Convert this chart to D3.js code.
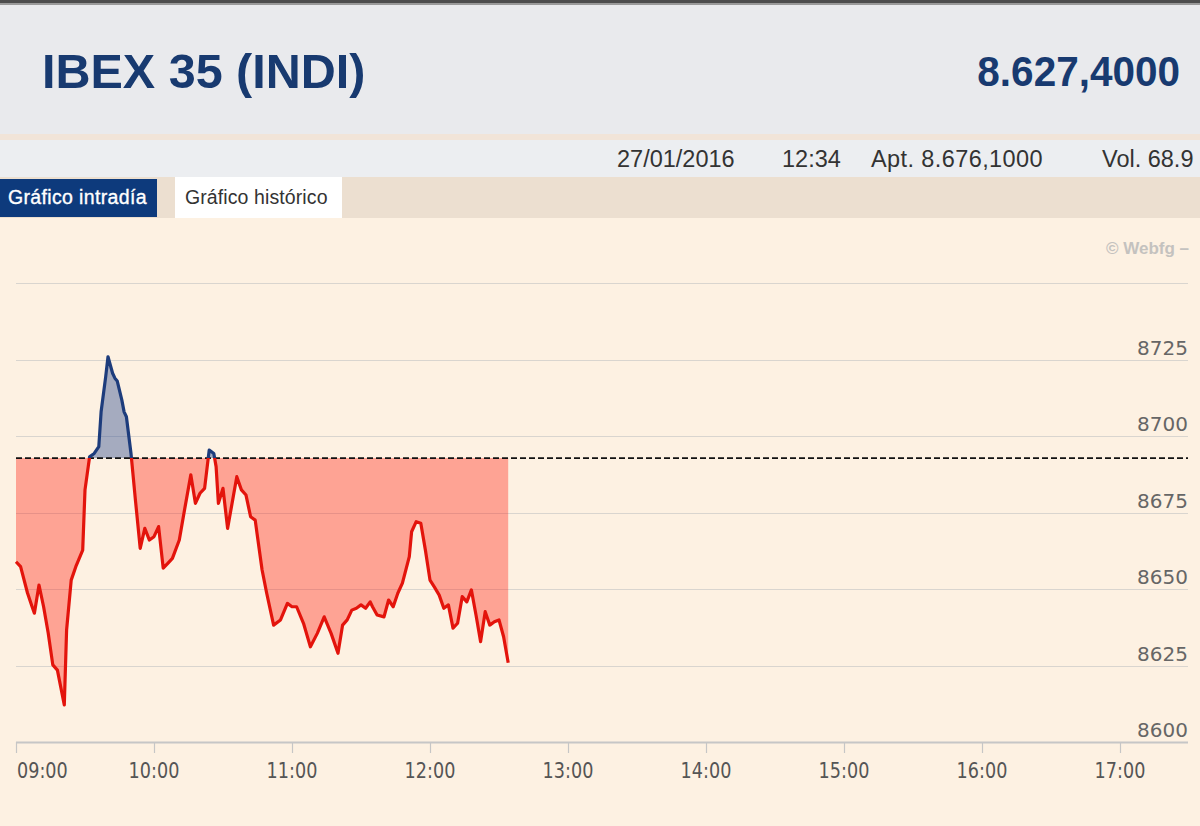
<!DOCTYPE html>
<html>
<head>
<meta charset="utf-8">
<script src="https://cdnjs.cloudflare.com/ajax/libs/d3/7.8.5/d3.min.js"></script>
<style>
  html, body { margin: 0; padding: 0; background: #fdf1e2; overflow: hidden; }
  svg { display: block; }
</style>
</head>
<body>
<svg id="chart" width="1200" height="826"></svg>
<script>
// ---------- data ----------
const title = "IBEX 35 (INDI)";
const lastValue = "8.627,4000";
const infoItems = ["27/01/2016", "12:34", "Apt. 8.676,1000", "Vol. 68.9"];
const tabLabels = ["Gráfico intradía", "Gráfico histórico"];
const credit = "\u00A9 Webfg \u2013";

const times = [
  "09:00","09:02","09:05","09:07","09:08","09:10","09:12","09:14","09:16","09:18",
  "09:21","09:22","09:24","09:26","09:29","09:30","09:32","09:34","09:36","09:37",
  "09:39","09:40","09:42","09:43","09:44","09:46","09:47","09:48","09:50","09:52",
  "09:54","09:56","09:58","10:00","10:02","10:04","10:06","10:08","10:11","10:13",
  "10:16","10:18","10:20","10:22","10:24","10:26","10:27","10:28","10:30","10:32",
  "10:36","10:38","10:40","10:42","10:44","10:47","10:49","10:52","10:55","10:58",
  "11:00","11:02","11:05","11:08","11:11","11:14","11:17","11:20","11:22","11:24",
  "11:26","11:28","11:30","11:32","11:34","11:35","11:37","11:40","11:42","11:44",
  "11:46","11:48","11:51","11:52","11:54","11:56","11:58","12:00","12:02","12:04",
  "12:06","12:08","12:10","12:12","12:14","12:16","12:18","12:20","12:22","12:24",
  "12:26","12:28","12:30","12:32","12:34"
];
const prices = [
  8658.9,8657.3,8648.7,8644.2,8642.1,8651.3,8644.2,8635.6,8625.2,8623.5,
  8612.1,8636.6,8652.9,8657.3,8662.7,8682.4,8693.2,8694.3,8696.5,8707.9,
  8719.4,8725.9,8720.5,8718.9,8718.0,8711.8,8707.9,8706.3,8694.3,8678.5,
  8663.3,8669.8,8666.0,8667.1,8670.4,8656.8,8658.4,8660.0,8666.0,8674.7,
  8687.3,8678.0,8681.3,8682.9,8695.4,8694.3,8690.0,8678.0,8682.9,8669.8,
  8686.7,8682.4,8680.7,8673.6,8672.5,8656.2,8648.6,8638.2,8639.9,8645.3,
  8644.2,8644.2,8638.8,8631.1,8635.5,8640.9,8635.5,8629.0,8638.2,8639.9,
  8643.1,8643.7,8644.8,8643.7,8645.8,8644.2,8641.5,8640.9,8646.4,8644.2,
  8648.6,8651.9,8660.6,8668.7,8672.0,8671.5,8662.7,8652.9,8650.5,8648.0,
  8643.7,8644.8,8637.2,8638.8,8647.5,8645.8,8649.7,8641.5,8632.8,8642.6,
  8638.2,8639.3,8639.9,8634.4,8625.9
];
const previousClose = 8692.8;
const xTickLabels = ["09:00","10:00","11:00","12:00","13:00","14:00","15:00","16:00","17:00"];
const yTickValues = [8600, 8625, 8650, 8675, 8700, 8725, 8750];
const yLabelValues = [8600, 8625, 8650, 8675, 8700, 8725];

// ---------- setup ----------
const parse = d3.timeParse("%H:%M");
const data = times.map((t, i) => ({ t: parse(t), v: prices[i] }));
const svg = d3.select("#chart");
const W = 1200;

const x = d3.scaleTime()
  .domain([parse(xTickLabels[0]), parse(xTickLabels[xTickLabels.length - 1])])
  .range([16, 1120]);
const y = d3.scaleLinear().domain([8600, 8750]).range([742, 283]);
const plotRight = 1188;

// ---------- page chrome ----------
svg.append("rect").attr("x", 0).attr("y", 0).attr("width", W).attr("height", 826).attr("fill", "#fdf1e2");
svg.append("rect").attr("x", 0).attr("y", 0).attr("width", W).attr("height", 136).attr("fill", "#e9eaed");
svg.append("rect").attr("x", 0).attr("y", 0).attr("width", W).attr("height", 3).attr("fill", "#4d4d4d");
svg.append("rect").attr("x", 0).attr("y", 3).attr("width", W).attr("height", 2).attr("fill", "#9a9a9a");
svg.append("rect").attr("x", 0).attr("y", 134).attr("width", W).attr("height", 6).attr("fill", "#f1e4d8");
svg.append("rect").attr("x", 0).attr("y", 140).attr("width", W).attr("height", 37).attr("fill", "#eceef1");
svg.append("rect").attr("x", 0).attr("y", 177).attr("width", W).attr("height", 41).attr("fill", "#ecdfd0");

svg.append("text").text(title)
  .attr("x", 42).attr("y", 88)
  .attr("font-family", "'Liberation Sans', Arial, sans-serif")
  .attr("font-weight", "bold").attr("font-size", 48.5)
  .attr("fill", "#183a70");

svg.append("text").text(lastValue)
  .attr("text-anchor", "end")
  .attr("transform", "translate(1180,86) scale(1,1.06)")
  .attr("font-family", "'Liberation Sans', Arial, sans-serif")
  .attr("font-weight", "bold").attr("font-size", 40.5)
  .attr("fill", "#183a70");

const infoX = [617, 782, 871, 1102];
svg.selectAll("text.info").data(infoItems).enter().append("text")
  .attr("class", "info")
  .text(d => d)
  .attr("x", (d, i) => infoX[i]).attr("y", 167)
  .attr("font-family", "'Liberation Sans', Arial, sans-serif")
  .attr("font-size", 23.5)
  .attr("letter-spacing", (d, i) => i === 2 ? 0.4 : 0)
  .attr("fill", "#333");

// tabs
svg.append("rect").attr("x", 0).attr("y", 179).attr("width", 157).attr("height", 38).attr("fill", "#0d3a7c");
svg.append("text").text(tabLabels[0])
  .attr("x", 8).attr("y", 204)
  .attr("font-family", "'Liberation Sans', Arial, sans-serif")
  .attr("font-size", 19.5).attr("letter-spacing", 0.35)
  .attr("stroke", "#ffffff").attr("stroke-width", 0.35)
  .attr("fill", "#ffffff");
svg.append("rect").attr("x", 175).attr("y", 177).attr("width", 167).attr("height", 41).attr("fill", "#ffffff");
svg.append("text").text(tabLabels[1])
  .attr("x", 185).attr("y", 204)
  .attr("font-family", "'Liberation Sans', Arial, sans-serif")
  .attr("font-size", 19.5).attr("letter-spacing", 0.1)
  .attr("fill", "#333");

// credit
svg.append("text").text(credit)
  .attr("x", 1189).attr("y", 254)
  .attr("text-anchor", "end")
  .attr("font-family", "'Liberation Sans', Arial, sans-serif")
  .attr("font-weight", "bold").attr("font-size", 17)
  .attr("fill", "#c4c2bf");

// ---------- grid + y labels ----------
const g = svg.append("g");
g.selectAll("line.grid").data(yTickValues.filter(v => v !== 8600)).enter().append("line")
  .attr("class", "grid")
  .attr("x1", 16).attr("x2", plotRight)
  .attr("y1", d => Math.round(y(d)) + 0.5).attr("y2", d => Math.round(y(d)) + 0.5)
  .attr("stroke", "#d9d5cf").attr("stroke-width", 1.2);

g.selectAll("text.ylab").data(yLabelValues).enter().append("text")
  .attr("class", "ylab")
  .text(d => d)
  .attr("x", plotRight).attr("y", d => y(d) - 5)
  .attr("text-anchor", "end")
  .attr("font-family", "'DejaVu Sans', Verdana, sans-serif")
  .attr("font-size", 20)
  .attr("fill", "#666");

// ---------- x axis ----------
const xAxisG = svg.append("g").attr("transform", "translate(0,742)");
xAxisG.append("line").attr("x1", 16).attr("x2", plotRight).attr("y1", 0.5).attr("y2", 0.5)
  .attr("stroke", "#c6c6c6").attr("stroke-width", 2);
const xTicks = xTickLabels.map(parse);
xAxisG.selectAll("line.tick").data(xTicks).enter().append("line")
  .attr("class", "tick")
  .attr("x1", d => Math.round(x(d)) + 0.5).attr("x2", d => Math.round(x(d)) + 0.5)
  .attr("y1", 0).attr("y2", 11)
  .attr("stroke", "#c6c6c6").attr("stroke-width", 1.2);
const fmt = d3.timeFormat("%H:%M");
xAxisG.selectAll("text.xlab").data(xTicks).enter().append("text")
  .attr("class", "xlab")
  .text(d => fmt(d))
  .attr("text-anchor", (d, i) => i === 0 ? "start" : "middle")
  .attr("transform", (d, i) => `translate(${i === 0 ? x(d) + 1 : x(d)},36) scale(0.86,1)`)
  .attr("font-family", "'DejaVu Sans', Verdana, sans-serif")
  .attr("font-size", 20.5)
  .attr("fill", "#555");

// ---------- series ----------
const yThr = y(previousClose);
const defs = svg.append("defs");
defs.append("clipPath").attr("id", "above").append("rect")
  .attr("x", 0).attr("y", 0).attr("width", W).attr("height", yThr);
defs.append("clipPath").attr("id", "below").append("rect")
  .attr("x", 0).attr("y", yThr).attr("width", W).attr("height", 826 - yThr);

const area = d3.area().x(d => x(d.t)).y0(yThr).y1(d => y(d.v));
const line = d3.line().x(d => x(d.t)).y(d => y(d.v));

svg.append("path").datum(data).attr("d", area)
  .attr("clip-path", "url(#below)")
  .attr("fill", "#ff1a0a").attr("fill-opacity", 0.36);
svg.append("path").datum(data).attr("d", area)
  .attr("clip-path", "url(#above)")
  .attr("fill", "#2a4a8f").attr("fill-opacity", 0.42);

svg.append("line")
  .attr("x1", 16).attr("x2", plotRight)
  .attr("y1", yThr).attr("y2", yThr)
  .attr("stroke", "#111").attr("stroke-width", 1.7)
  .attr("stroke-dasharray", "6,3");

svg.append("path").datum(data).attr("d", line)
  .attr("clip-path", "url(#below)")
  .attr("fill", "none").attr("stroke", "#e3140c").attr("stroke-width", 3.2)
  .attr("stroke-linejoin", "round");
svg.append("path").datum(data).attr("d", line)
  .attr("clip-path", "url(#above)")
  .attr("fill", "none").attr("stroke", "#1d3c7c").attr("stroke-width", 3.2)
  .attr("stroke-linejoin", "round");
</script>
</body>
</html>
